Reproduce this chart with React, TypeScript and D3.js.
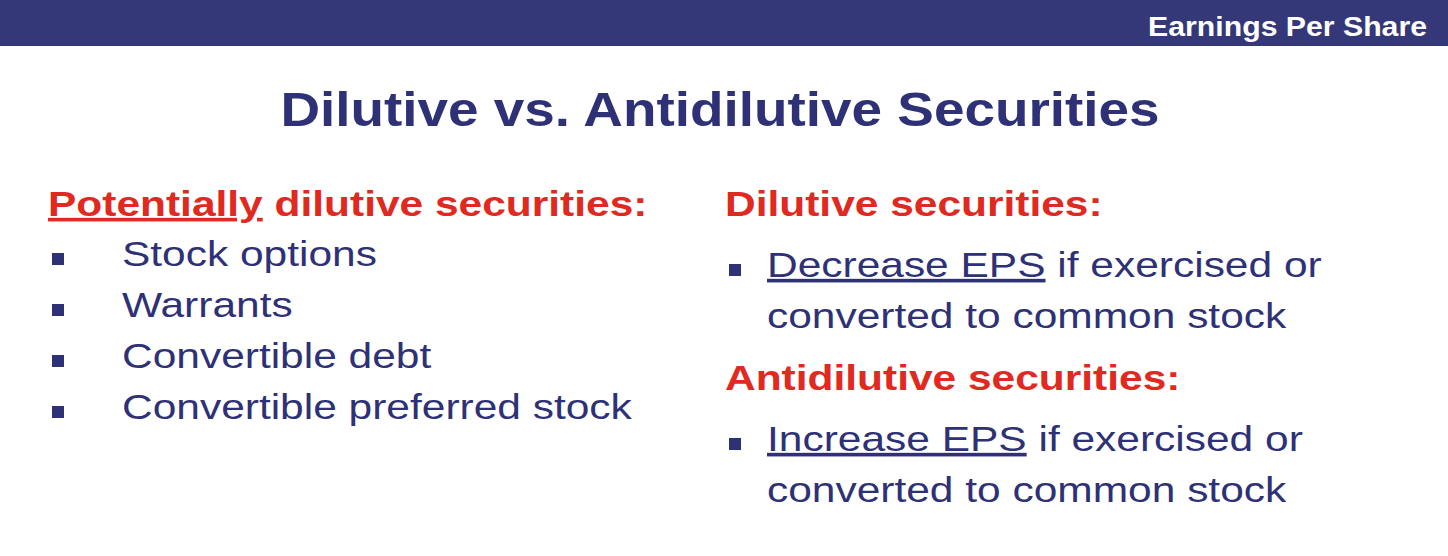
import * as d3 from "d3";

const headerText = "Earnings Per Share";
const titleText = "Dilutive vs. Antidilutive Securities";
const leftHeading = { underlined: "Potentially", rest: " dilutive securities:" };
const leftItems = ["Stock options", "Warrants", "Convertible debt", "Convertible preferred stock"];
const rightGroups = [
  { heading: "Dilutive securities:", key: "Decrease EPS", line1: " if exercised or", line2: "converted to common stock" },
  { heading: "Antidilutive securities:", key: "Increase EPS", line1: " if exercised or", line2: "converted to common stock" },
];

const W = 1448;
const H = 556;
const NAVY = "#353878";
const TEXT = "#2e3176";
const RED = "#e0291f";
const FONT = "'Liberation Sans', Arial, sans-serif";
const SX = 1.18;

// text stretched horizontally about its anchor point
function Wide({ x, y, sx = SX, children, ...rest }: any) {
  return (
    <g transform={`translate(${x},${y}) scale(${sx},1)`}>
      <text x={0} y={0} {...rest}>{children}</text>
    </g>
  );
}

export default function App() {
  const yLeft = d3.scaleLinear().domain([0, 1]).range([266, 317]);
  const yRight = d3.scaleLinear().domain([0, 1]).range([216, 277]);
  return (
    <svg width={W} height={H} style={{ position: "absolute", left: 0, top: 0, background: "#fff" }} fontFamily={FONT}>
      <rect x={0} y={0} width={W} height={46} fill={NAVY} />
      <Wide x={1427} y={36} sx={1.12} textAnchor="end" fill="#fff" fontWeight="bold" fontSize={27}>{headerText}</Wide>
      <Wide x={720} y={126} sx={1.12} textAnchor="middle" fill={TEXT} fontWeight="bold" fontSize={49}>{titleText}</Wide>

      <Wide x={48} y={216} fill={RED} fontWeight="bold" fontSize={36}>
        <tspan textDecoration="underline">{leftHeading.underlined}</tspan>
        <tspan>{leftHeading.rest}</tspan>
      </Wide>
      {leftItems.map((t, i) => (
        <g key={t}>
          <rect x={52} y={yLeft(i) - 13} width={12} height={12} fill={TEXT} />
          <Wide x={122} y={yLeft(i)} fill={TEXT} fontSize={36}>{t}</Wide>
        </g>
      ))}

      {rightGroups.map((g, gi) => {
        const base = gi * 174;
        return (
          <g key={g.heading}>
            <Wide x={725} y={yRight(0) + base} fill={RED} fontWeight="bold" fontSize={36}>{g.heading}</Wide>
            <rect x={729} y={yRight(1) + base - 13} width={12} height={12} fill={TEXT} />
            <Wide x={767} y={yRight(1) + base} fill={TEXT} fontSize={36}>
              <tspan textDecoration="underline">{g.key}</tspan>
              <tspan>{g.line1}</tspan>
            </Wide>
            <Wide x={767} y={yRight(1) + base + 51} fill={TEXT} fontSize={36}>{g.line2}</Wide>
          </g>
        );
      })}
    </svg>
  );
}
